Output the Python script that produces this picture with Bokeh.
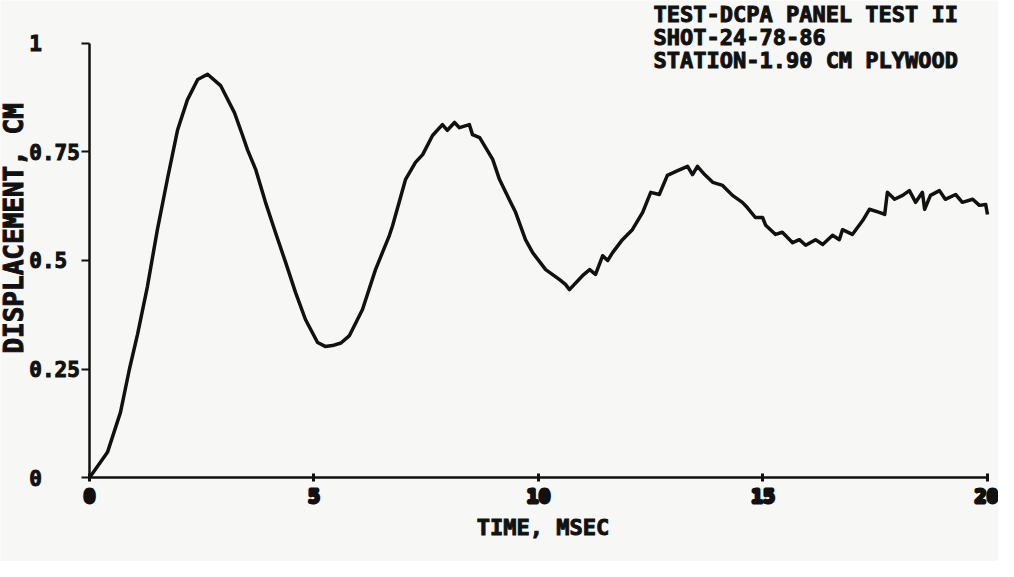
import math
from bokeh.plotting import figure
from bokeh.models import (Range1d, ColumnDataSource, Label, LabelSet, FixedTicker,
                          CustomJSTickFormatter, LinearAxis)
from bokeh.core.properties import value
from bokeh.embed import file_html
from bokeh.resources import INLINE

# ---- data ----
time_ms = [0.0, 0.07, 0.40, 0.69, 0.89, 1.07, 1.29, 1.51, 1.74, 1.96, 2.18, 2.41, 2.63, 2.92, 3.23,
           3.41, 3.52, 3.70, 3.92, 4.14, 4.37, 4.59, 4.81, 5.08, 5.25, 5.41, 5.60, 5.79, 6.08, 6.37,
           6.68, 6.75, 7.04, 7.26, 7.42, 7.64, 7.86, 7.97, 8.13, 8.24, 8.46, 8.53, 8.69, 8.98, 9.13,
           9.27, 9.49, 9.71, 9.87, 10.16, 10.47, 10.60, 10.69, 10.98, 11.14, 11.27, 11.43, 11.54, 11.65,
           11.87, 12.09, 12.32, 12.50, 12.69, 12.87, 13.10, 13.32, 13.43, 13.54, 13.70, 13.88, 14.10,
           14.32, 14.54, 14.65, 14.83, 14.99, 15.06, 15.28, 15.43, 15.66, 15.81, 15.95, 16.17, 16.33,
           16.55, 16.70, 16.77, 16.99, 17.22, 17.37, 17.59, 17.71, 17.77, 17.93, 18.11, 18.26, 18.40,
           18.55, 18.60, 18.73, 18.93, 19.06, 19.29, 19.44, 19.67, 19.82, 19.96, 20.0]
displacement_cm = [0.0, 0.01, 0.058, 0.15, 0.25, 0.33, 0.44, 0.57, 0.69, 0.80, 0.87, 0.917, 0.929, 0.903, 0.84,
                   0.788, 0.755, 0.71, 0.634, 0.565, 0.495, 0.426, 0.364, 0.311, 0.302, 0.304, 0.31, 0.327, 0.387, 0.479,
                   0.558, 0.58, 0.687, 0.726, 0.744, 0.788, 0.813, 0.80, 0.818, 0.806, 0.813, 0.79, 0.783, 0.733, 0.687,
                   0.657, 0.611, 0.548, 0.518, 0.479, 0.456, 0.445, 0.433, 0.465, 0.479, 0.468, 0.511, 0.50, 0.518,
                   0.548, 0.571, 0.611, 0.657, 0.652, 0.696, 0.707, 0.717, 0.698, 0.717, 0.698, 0.68, 0.673,
                   0.65, 0.634, 0.622, 0.599, 0.599, 0.581, 0.56, 0.565, 0.541, 0.548, 0.535, 0.548, 0.537,
                   0.558, 0.548, 0.571, 0.56, 0.592, 0.618, 0.611, 0.606, 0.657, 0.641, 0.65, 0.661, 0.634,
                   0.657, 0.618, 0.65, 0.661, 0.641, 0.652, 0.634, 0.641, 0.627, 0.629, 0.606]

x_ticks = [0, 5, 10, 15, 20]
y_ticks = [0, 0.25, 0.5, 0.75, 1]
y_tick_labels = ["0", "0.25", "0.5", "0.75", "1"]
title_lines = ["TEST-DCPA PANEL TEST II", "SHOT-24-78-86", "STATION-1.90 CM PLYWOOD"]
x_label = "TIME, MSEC"
y_label = "DISPLACEMENT, CM"

FONT_NAME = "DejaVu Sans Mono"   # plotter lettering is fixed-width
BG = "#f7f7f5"
INK = "#111111"

# The frame fills the whole canvas; the axes sit at x=0 / y=0 inside it,
# so that every text (which Bokeh clips to the frame) can be shown.
p = figure(width=998, height=561, output_backend="svg", toolbar_location=None,
           x_range=Range1d(-1.982, 20.245), y_range=Range1d(-0.1935, 1.099),
           x_axis_location=None, y_axis_location=None,
           min_border_left=0, min_border_right=0, min_border_top=0, min_border_bottom=0)
p.background_fill_color = BG
p.border_fill_color = BG
p.outline_line_color = None
p.grid.visible = False

p.line(time_ms, displacement_cm, line_color=INK, line_width=3.5, line_join="round")

# x axis
xa = LinearAxis(fixed_location=0, bounds=(0, 20))
xa.ticker = FixedTicker(ticks=x_ticks)
xa.minor_tick_line_color = None
xa.axis_line_width = 2.5
xa.axis_line_color = INK
xa.major_tick_line_width = 3
xa.major_tick_line_color = INK
xa.major_tick_in = 4
xa.major_tick_out = 4
xa.major_label_standoff = 7
xa.major_label_text_font = FONT_NAME
xa.major_label_text_font_style = "bold"
xa.major_label_text_font_size = "20px"
xa.major_label_text_color = INK
xa.major_label_text_outline_color = INK
p.add_layout(xa, "below")

# y axis (labels drawn separately, left-aligned like the plotter output)
ya = LinearAxis(fixed_location=0, bounds=(0, 1))
ya.ticker = FixedTicker(ticks=y_ticks)
ya.formatter = CustomJSTickFormatter(code="return ''")
ya.minor_tick_line_color = None
ya.axis_line_width = 2.5
ya.axis_line_color = INK
ya.major_tick_line_width = 2
ya.major_tick_line_color = INK
ya.major_tick_in = 0
ya.major_tick_out = 8
p.add_layout(ya, "left")

ysrc = ColumnDataSource(dict(y=y_ticks, text=y_tick_labels))
p.add_layout(LabelSet(x=-1.34, y="y", text="text", source=ysrc, text_align="left",
                      text_baseline="middle", text_font=value(FONT_NAME), text_font_style="bold",
                      text_font_size="21px", text_color=INK, text_outline_color=INK))

# title block, top right
for i, line in enumerate(title_lines):
    p.add_layout(Label(x=12.56, y=1.067 - i * 0.053, text=line, text_align="left",
                       text_baseline="middle", text_font=FONT_NAME, text_font_style="bold",
                       text_font_size="22px", text_color=INK, text_outline_color=INK))

p.add_layout(Label(x=10.1, y=-0.115, text=x_label, text_align="center", text_baseline="middle",
                   text_font=FONT_NAME, text_font_style="bold", text_font_size="22px",
                   text_color=INK, text_outline_color=INK))
p.add_layout(Label(x=-1.69, y=0.574, text=y_label, angle=math.pi / 2, text_align="center",
                   text_baseline="middle", text_font=FONT_NAME, text_font_style="bold",
                   text_font_size="26px", text_color=INK, text_outline_color=INK))

open("out.html", "w").write(file_html(p, INLINE))
